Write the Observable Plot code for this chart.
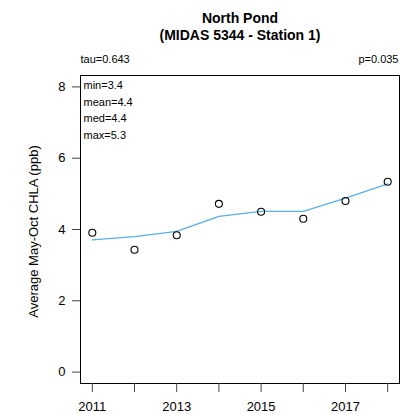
<!DOCTYPE html>
<html>
<head>
<meta charset="utf-8">
<script src="https://cdn.jsdelivr.net/npm/d3@7"></script>
<script src="https://cdn.jsdelivr.net/npm/@observablehq/plot@0.6"></script>
<style>
  html, body { margin: 0; padding: 0; background: #fff; }
  svg { display: block; }
</style>
</head>
<body>
<div id="chart"></div>
<script>
const years = [2011, 2012, 2013, 2014, 2015, 2016, 2017, 2018];
const observed = [3.91, 3.43, 3.84, 4.72, 4.50, 4.30, 4.80, 5.34];
const smoothed = [3.71, 3.80, 3.95, 4.37, 4.51, 4.51, 4.88, 5.28];
const yTicks = [0, 2, 4, 6, 8];
const xTickLabels = ["2011", "", "2013", "", "2015", "", "2017", ""];
const statLines = ["min=3.4", "mean=4.4", "med=4.4", "max=5.3"];
const titleLines = ["North Pond", "(MIDAS 5344 - Station 1)"];
const tauText = "tau=0.643";
const pText = "p=0.035";
const yLabel = "Average May-Oct CHLA (ppb)";

const pts = years.map((y, i) => ({year: y, value: observed[i]}));
const fit = years.map((y, i) => ({year: y, value: smoothed[i]}));
const font = "Liberation Sans, Arial, sans-serif";

const chart = Plot.plot({
  width: 400,
  height: 414,
  marginTop: 75,
  marginRight: 1,
  marginBottom: 31,
  marginLeft: 80,
  style: {fontFamily: font, background: "#fff", color: "#000"},
  x: {type: "linear", domain: [2010.72, 2018.28]},
  y: {domain: [-0.32, 8.32]},
  marks: [
    Plot.frame({stroke: "#000", strokeWidth: 1}),
    Plot.axisY({ticks: yTicks, tickSize: 8, tickPadding: 7, fontSize: 13, label: null, stroke: "#444"}),
    Plot.axisX({ticks: years, tickSize: 9, tickPadding: 9, fontSize: 13, label: null,
      tickFormat: (d) => xTickLabels[years.indexOf(d)], stroke: "#444"}),
    Plot.line(fit, {x: "year", y: "value", stroke: "#5AAFEA", strokeWidth: 1.3}),
    Plot.dot(pts, {x: "year", y: "value", r: 3.5, stroke: "#000", strokeWidth: 1.1, fill: "none"}),
    Plot.text([titleLines[0]], {frameAnchor: "top", dy: -62, fontWeight: "bold", fontSize: 14}),
    Plot.text([titleLines[1]], {frameAnchor: "top", dy: -45, fontWeight: "bold", fontSize: 14}),
    Plot.text([tauText], {frameAnchor: "top-left", textAnchor: "start", dy: -20, fontSize: 11}),
    Plot.text([pText], {frameAnchor: "top-right", textAnchor: "end", dx: -1, dy: -20, fontSize: 11}),
    Plot.text([statLines.join("\n")], {frameAnchor: "top-left", textAnchor: "start", lineAnchor: "top",
      dx: 3, dy: 2, fontSize: 11, lineHeight: 1.5}),
    Plot.text([yLabel], {frameAnchor: "left", textAnchor: "middle", rotate: -90, dx: -47, dy: 2, fontSize: 13})
  ]
});
document.getElementById("chart").appendChild(chart);
</script>
</body>
</html>
